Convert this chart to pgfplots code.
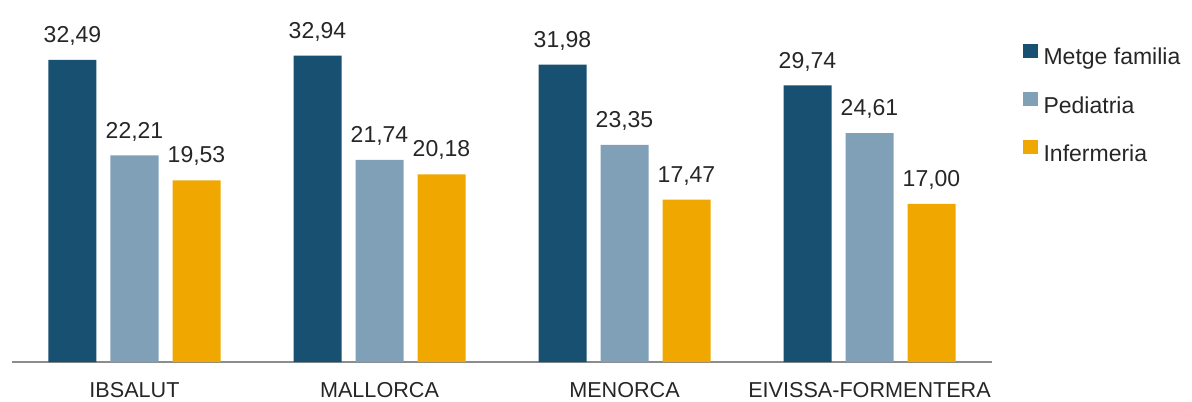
\documentclass[border=0pt]{standalone}
\usepackage{pgfplots}
\pgfplotsset{compat=1.18}
\usepackage{fontspec}
\setmainfont{Liberation Sans}
\definecolor{cA}{HTML}{175070}
\definecolor{cB}{HTML}{80A0B8}
\definecolor{cC}{HTML}{F0A800}
\begin{document}
\begin{tikzpicture}
\begin{axis}[
  at={(0,0)}, anchor=south west,
  scale only axis, width=490pt, height=176.7pt,
  xmin=-0.5, xmax=3.5, ymin=0, ymax=38,
  ybar=7pt, bar width=24pt,
  axis x line*=bottom, axis y line=none,
  x axis line style={draw=black!45, line width=0.6pt},
  xtick={0,1,2,3},
  xticklabels={IBSALUT,MALLORCA,MENORCA,EIVISSA-FORMENTERA},
  xtick style={draw=none},
  x tick label style={font=\fontsize{10.8}{13}\selectfont, text=black!85, yshift=-2.5pt},
  ytick=\empty,
  /pgf/number format/.cd, fixed, fixed zerofill, precision=2, use comma, assume math mode=true,
  /pgfplots/.cd,
  nodes near coords,
  nodes near coords style={anchor=base, yshift=8.7pt, font=\fontsize{11.5}{13}\selectfont, text=black!85},
  legend image code/.code={\fill[#1] (0pt,0pt) rectangle (7.5pt,7.2pt);},
  legend style={at={(axis description cs:1.0316,0.901)}, anchor=north west, draw=none, fill=none,
    inner sep=0pt, outer sep=0pt, row sep=12pt, column sep=2.8pt,
    font=\fontsize{11.5}{13}\selectfont, text=black!85,
    nodes={inner sep=0pt}},
  legend cell align=left,
]
\addplot[fill=cA, draw=none] coordinates {(0,32.49) (1,32.94) (2,31.98) (3,29.74)};
\addplot[fill=cB, draw=none] coordinates {(0,22.21) (1,21.74) (2,23.35) (3,24.61)};
\addplot[fill=cC, draw=none] coordinates {(0,19.53) (1,20.18) (2,17.47) (3,17.00)};
\legend{Metge familia, Pediatria, Infermeria}
\end{axis}
\pgfresetboundingbox
\path[use as bounding box] (-6pt,-19.5pt) rectangle (590pt,181pt);
\end{tikzpicture}
\end{document}
